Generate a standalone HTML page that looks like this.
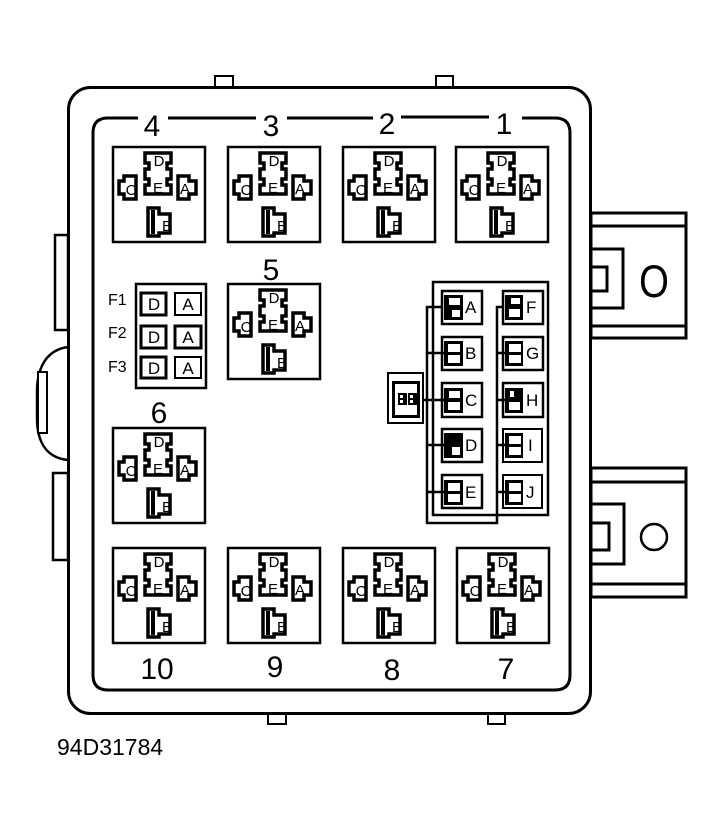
<!DOCTYPE html>
<html><head><meta charset="utf-8"><style>
html,body{margin:0;padding:0;background:#fff}
svg{display:block}
text{font-family:"Liberation Sans",Arial,sans-serif;fill:#000}
.n{font-size:30px;text-anchor:middle}
.r{font-size:15px;text-anchor:middle}
.c{font-size:17px}
</style></head><body>
<svg width="725" height="830" viewBox="0 0 725 830" xmlns="http://www.w3.org/2000/svg">
<rect width="725" height="830" fill="#fff"/>
<defs>
<g id="rly" stroke="#000" fill="#fff">
<rect x="1" y="1" width="92" height="95" stroke-width="2.5"/>
<path d="M33,7 H59 V17 H55 V23 H59 V33 H55 V39 H59 V48 H33 V39 H37 V33 H33 V23 H37 V17 H33 Z" stroke-width="3.5"/>
<path d="M12,30 H24 V53 H12 V48 H7 V35 H12 Z" stroke-width="3.5"/>
<path d="M66,30 H77 V35 H84 V48 H77 V53 H66 Z" stroke-width="3.5"/>
<path d="M36,62 H47 V68 H58 V87 H47 V90 H36 Z" stroke-width="3.5"/>
<rect x="39" y="64" width="4" height="24" fill="#000" stroke="none"/>
</g>
</defs>

<!-- left side features -->
<g stroke="#000" fill="#fff" stroke-width="2.5">
<rect x="55" y="235" width="13" height="95"/>
<path d="M68,347 C46,350 37,368 37,392 L37,418 C37,444 48,458 68,460"/>
<rect x="38" y="372" width="9" height="61" stroke-width="2"/>
<rect x="53" y="473" width="15" height="87"/>
</g>

<!-- top/bottom tabs -->
<g stroke="#000" fill="#fff" stroke-width="2">
<rect x="215" y="76" width="18" height="11"/>
<rect x="436" y="76" width="17" height="11"/>
<rect x="268" y="713" width="18" height="11"/>
<rect x="488" y="713" width="17" height="11"/>
</g>

<!-- right tabs -->
<g stroke="#000" fill="#fff" stroke-width="3">
<rect x="591" y="213" width="95" height="125"/>
<line x1="591" y1="226" x2="686" y2="226"/>
<line x1="591" y1="326" x2="686" y2="326"/>
<rect x="591" y="249" width="32" height="59"/>
<rect x="591" y="267" width="16" height="24"/>
<rect x="591" y="468" width="95" height="129"/>
<line x1="591" y1="482" x2="686" y2="482"/>
<line x1="591" y1="584" x2="686" y2="584"/>
<rect x="591" y="504" width="33" height="60"/>
<rect x="591" y="523" width="18" height="27"/>
<circle cx="654" cy="537" r="13" stroke-width="2.5"/>
</g>
<text x="0" y="0" transform="translate(654,297) scale(0.85,1)" text-anchor="middle" style="font-size:45px">O</text>

<!-- outer box -->
<rect x="68.5" y="87.5" width="522" height="626" rx="22" fill="none" stroke="#000" stroke-width="3"/>

<!-- inner box with gaps -->
<g fill="none" stroke="#000" stroke-width="3">
<path d="M138,118 H108 Q93,118 93,133 V675 Q93,690 108,690 H555 Q570,690 570,675 V133 Q570,118 555,118 H522"/>
<line x1="168" y1="118" x2="256" y2="118"/>
<line x1="287" y1="118" x2="373" y2="118"/>
<line x1="401" y1="117" x2="489" y2="117"/>
</g>

<!-- numbers -->
<text class="n" x="152" y="136">4</text>
<text class="n" x="271" y="136">3</text>
<text class="n" x="387" y="134">2</text>
<text class="n" x="504" y="134">1</text>
<text class="n" x="271" y="280">5</text>
<text class="n" x="159" y="423">6</text>
<text class="n" x="157" y="679">10</text>
<text class="n" x="275" y="677">9</text>
<text class="n" x="392" y="680">8</text>
<text class="n" x="506" y="679">7</text>

<!-- relays -->
<use href="#rly" x="112" y="146"/>
<use href="#rly" x="227" y="146"/>
<use href="#rly" x="342" y="146"/>
<use href="#rly" x="455" y="146"/>
<use href="#rly" x="227" y="283"/>
<use href="#rly" x="112" y="427"/>
<use href="#rly" x="112" y="547"/>
<use href="#rly" x="227" y="547"/>
<use href="#rly" x="342" y="547"/>
<use href="#rly" x="456" y="547"/>

<g>
<text class="r" x="159" y="166">D</text><text class="r" x="158" y="193">E</text><text class="r" x="131" y="195">C</text><text class="r" x="185" y="194">A</text><text class="r" x="167" y="231">B</text>
<text class="r" x="274" y="166">D</text><text class="r" x="273" y="193">E</text><text class="r" x="246" y="195">C</text><text class="r" x="300" y="194">A</text><text class="r" x="282" y="231">B</text>
<text class="r" x="389" y="166">D</text><text class="r" x="388" y="193">E</text><text class="r" x="361" y="195">C</text><text class="r" x="415" y="194">A</text><text class="r" x="397" y="231">B</text>
<text class="r" x="502" y="166">D</text><text class="r" x="501" y="193">E</text><text class="r" x="474" y="195">C</text><text class="r" x="528" y="194">A</text><text class="r" x="510" y="231">B</text>
<text class="r" x="274" y="303">D</text><text class="r" x="273" y="330">E</text><text class="r" x="246" y="332">C</text><text class="r" x="300" y="331">A</text><text class="r" x="282" y="368">B</text>
<text class="r" x="159" y="447">D</text><text class="r" x="158" y="474">E</text><text class="r" x="131" y="476">C</text><text class="r" x="185" y="475">A</text><text class="r" x="167" y="512">B</text>
<text class="r" x="159" y="567">D</text><text class="r" x="158" y="594">E</text><text class="r" x="131" y="596">C</text><text class="r" x="185" y="595">A</text><text class="r" x="167" y="632">B</text>
<text class="r" x="274" y="567">D</text><text class="r" x="273" y="594">E</text><text class="r" x="246" y="596">C</text><text class="r" x="300" y="595">A</text><text class="r" x="282" y="632">B</text>
<text class="r" x="389" y="567">D</text><text class="r" x="388" y="594">E</text><text class="r" x="361" y="596">C</text><text class="r" x="415" y="595">A</text><text class="r" x="397" y="632">B</text>
<text class="r" x="503" y="567">D</text><text class="r" x="502" y="594">E</text><text class="r" x="475" y="596">C</text><text class="r" x="529" y="595">A</text><text class="r" x="511" y="632">B</text>
</g>

<!-- fuse block -->
<g fill="#fff" stroke="#000">
<rect x="136" y="284" width="70" height="104" stroke-width="2.5"/>
<rect x="141" y="293" width="25" height="22" stroke-width="3"/>
<rect x="175" y="293" width="26" height="22" stroke-width="2"/>
<rect x="141" y="326" width="25" height="22" stroke-width="3"/>
<rect x="175" y="326" width="26" height="22" stroke-width="3"/>
<rect x="141" y="357" width="25" height="21" stroke-width="3"/>
<rect x="175" y="357" width="26" height="21" stroke-width="2"/>
</g>
<g style="font-size:16px">
<text x="108" y="305">F1</text>
<text x="108" y="338">F2</text>
<text x="108" y="372">F3</text>
</g>
<g style="font-size:17px" text-anchor="middle">
<text x="154" y="310">D</text><text x="188" y="310">A</text>
<text x="154" y="343">D</text><text x="188" y="343">A</text>
<text x="154" y="374">D</text><text x="188" y="374">A</text>
</g>

<!-- connector block -->
<g fill="none" stroke="#000" stroke-width="2.5">
<rect x="433" y="282" width="115" height="233"/>
<path d="M446,307 H427 V523 H497 V307 H506"/>
</g>
<g fill="#fff" stroke="#000" stroke-width="2.5">
<rect x="442" y="291" width="40" height="33"/>
<rect x="442" y="337" width="40" height="33"/>
<rect x="442" y="383" width="40" height="34"/>
<rect x="442" y="429" width="40" height="33"/>
<rect x="442" y="475" width="40" height="33"/>
<rect x="503" y="291" width="40" height="33"/>
<rect x="503" y="337" width="40" height="33"/>
<rect x="503" y="383" width="40" height="34"/>
<rect x="503" y="429" width="39" height="33" stroke-width="2"/>
<rect x="503" y="475" width="39" height="33" stroke-width="2"/>
</g>
<g stroke="#000" stroke-width="2.5">
<line x1="427" y1="353" x2="446" y2="353"/>
<line x1="423" y1="400" x2="446" y2="400"/>
<line x1="427" y1="445" x2="446" y2="445"/>
<line x1="427" y1="492" x2="446" y2="492"/>
<line x1="497" y1="353" x2="506" y2="353"/>
<line x1="497" y1="400" x2="506" y2="400"/>
<line x1="497" y1="445" x2="506" y2="445"/>
<line x1="497" y1="492" x2="506" y2="492"/>
</g>
<!-- connector pins -->
<g fill="#000">
<rect x="444" y="295" width="19" height="25"/>
<rect x="444" y="341" width="19" height="25"/>
<rect x="444" y="388" width="19" height="25"/>
<rect x="444" y="433" width="19" height="25"/>
<rect x="444" y="480" width="19" height="25"/>
<rect x="505" y="295" width="18" height="25"/>
<rect x="505" y="341" width="18" height="25"/>
<rect x="505" y="388" width="18" height="25"/>
<rect x="505" y="433" width="18" height="25"/>
<rect x="505" y="480" width="18" height="25"/>
</g>
<g fill="#fff">
<rect x="449" y="298" width="11" height="7"/><rect x="452" y="310" width="8" height="7"/>
<rect x="448" y="344" width="12" height="8"/><rect x="448" y="355" width="12" height="8"/>
<rect x="449" y="391" width="11" height="7"/><rect x="448" y="402" width="12" height="8"/>
<rect x="452" y="447" width="8" height="8"/>
<rect x="448" y="483" width="12" height="8"/><rect x="448" y="494" width="12" height="8"/>
<rect x="511" y="298" width="9" height="6"/><rect x="509" y="309" width="11" height="8"/>
<rect x="509" y="344" width="12" height="8"/><rect x="509" y="355" width="12" height="8"/>
<rect x="509" y="402" width="11" height="8"/><rect x="510" y="391" width="4" height="6"/>
<rect x="509" y="436" width="12" height="8"/><rect x="509" y="447" width="12" height="8"/>
<rect x="509" y="483" width="12" height="8"/><rect x="509" y="494" width="12" height="8"/>
</g>
<g class="c">
<text x="465" y="313">A</text>
<text x="465" y="359">B</text>
<text x="465" y="406">C</text>
<text x="465" y="451">D</text>
<text x="465" y="498">E</text>
<text x="526" y="313">F</text>
<text x="526" y="359">G</text>
<text x="526" y="406">H</text>
<text x="528" y="451">I</text>
<text x="526" y="498">J</text>
</g>

<!-- small side box -->
<g fill="#fff" stroke="#000">
<rect x="388" y="373" width="35" height="50" stroke-width="2"/>
<rect x="393.5" y="382.5" width="25" height="34" stroke-width="3"/>
</g>
<rect x="398" y="393" width="20" height="12" fill="#000"/>
<g fill="#fff">
<rect x="400" y="395" width="3" height="3"/><rect x="400" y="400" width="3" height="3"/>
<rect x="410" y="395" width="3" height="3"/><rect x="410" y="400" width="3" height="3"/>
<rect x="407" y="393" width="1" height="12"/>
</g>

<text x="57" y="755" style="font-size:23px">94D31784</text>
</svg>
</body></html>
